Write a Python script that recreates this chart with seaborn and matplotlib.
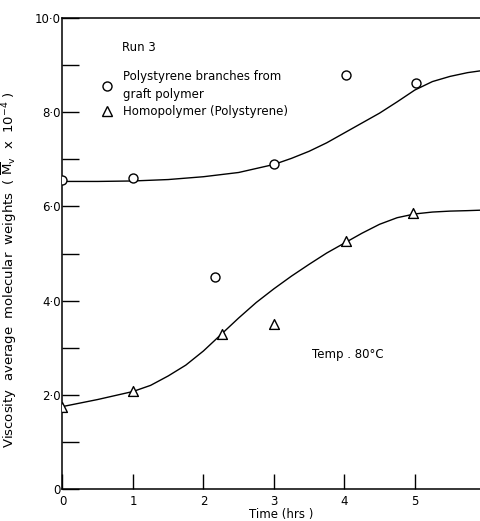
import matplotlib
matplotlib.use("Agg")
import matplotlib.pyplot as plt
from matplotlib.lines import Line2D
import seaborn as sns

# Measured points
branch_time = [0.0, 1.0, 2.17, 3.0, 4.02, 5.02]
branch_mv = [6.56, 6.61, 4.50, 6.90, 8.78, 8.61]
homo_time = [0.0, 1.0, 2.26, 3.0, 4.02, 4.98]
homo_mv = [1.75, 2.08, 3.29, 3.50, 5.27, 5.87]

# Hand-drawn trend curves
branch_curve_t = [0.0, 0.5, 1.0, 1.5, 2.0, 2.5, 3.0, 3.25, 3.5, 3.75, 4.0, 4.25, 4.5, 4.75, 5.0, 5.25, 5.5, 5.75, 5.94]
branch_curve_v = [6.53, 6.53, 6.54, 6.57, 6.63, 6.72, 6.89, 7.02, 7.17, 7.35, 7.56, 7.77, 7.98, 8.22, 8.47, 8.65, 8.76, 8.84, 8.88]
homo_curve_t = [0.0, 0.5, 1.0, 1.25, 1.5, 1.75, 2.0, 2.25, 2.5, 2.75, 3.0, 3.25, 3.5, 3.75, 4.0, 4.25, 4.5, 4.75, 5.0, 5.25, 5.5, 5.75, 5.94]
homo_curve_v = [1.75, 1.90, 2.07, 2.20, 2.40, 2.63, 2.93, 3.28, 3.63, 3.96, 4.25, 4.52, 4.77, 5.01, 5.22, 5.43, 5.62, 5.76, 5.84, 5.88, 5.90, 5.91, 5.92]

y_major = [0, 2, 4, 6, 8, 10]
y_major_labels = ["0", "2·0", "4·0", "6·0", "8·0", "10·0"]
y_minor = [1, 3, 5, 7, 9]
x_ticks = [0, 1, 2, 3, 4, 5]
x_tick_labels = ["0", "1", "2", "3", "4", "5"]

sns.set_style("ticks")
plt.rcParams["font.family"] = ["DejaVu Sans"]
plt.rcParams["mathtext.fontset"] = "dejavusans"
plt.rcParams["text.color"] = "black"
plt.rcParams["axes.labelcolor"] = "black"

fig = plt.figure(figsize=(4.81, 5.21), dpi=100)
ax = fig.add_axes([62.5 / 481, 32 / 521, 418.5 / 481, 471 / 521])

sns.lineplot(x=branch_curve_t, y=branch_curve_v, ax=ax, color="black", lw=1.0, sort=False)
sns.lineplot(x=homo_curve_t, y=homo_curve_v, ax=ax, color="black", lw=1.0, sort=False)
sns.scatterplot(x=branch_time, y=branch_mv, ax=ax, marker="o", s=42,
                facecolor="white", edgecolor="black", linewidth=1.0, zorder=3)
sns.scatterplot(x=homo_time, y=homo_mv, ax=ax, marker="^", s=50,
                facecolor="white", edgecolor="black", linewidth=1.0, zorder=3)

ax.set_xlim(0, 5.94)
ax.set_ylim(0, 10)
ax.set_yticks(y_major)
ax.set_yticklabels(y_major_labels)
ax.set_yticks(y_minor, minor=True)
ax.set_xticks(x_ticks)
ax.set_xticklabels(x_tick_labels)

ax.tick_params(axis="y", which="both", direction="in", length=12, width=1.0,
               pad=1, labelsize=8.5, colors="black")
ax.tick_params(axis="x", which="both", direction="in", length=11, width=1.0,
               pad=4, labelsize=8.5, colors="black")

for side in ["left", "bottom", "top"]:
    ax.spines[side].set_linewidth(1.1)
    ax.spines[side].set_color("black")
ax.spines["right"].set_visible(False)

ax.set_xlabel("Time (hrs )", fontsize=8.5)
ax.xaxis.set_label_coords(0.522, -0.041)
ax.set_ylabel(r"Viscosity  average  molecular  weights  ( $\overline{\mathrm{M}}_{\mathrm{v}}$  x  10$^{-4}$ )",
              fontsize=9.5)
ax.yaxis.set_label_coords(-0.103, 0.465)

ax.text(0.84, 9.38, "Run 3", fontsize=8.5, va="center", ha="left")
ax.text(3.54, 2.85, "Temp . 80°C", fontsize=8.5, va="center", ha="left")

handles = [
    Line2D([], [], ls="none", marker="o", ms=6.5, mfc="white", mec="black", mew=1.0),
    Line2D([], [], ls="none", marker="^", ms=7, mfc="white", mec="black", mew=1.0),
]
labels = ["Polystyrene branches from\ngraft polymer", "Homopolymer (Polystyrene)"]
leg = ax.legend(handles, labels, loc="upper left", bbox_to_anchor=(0.092, 0.89),
                frameon=False, fontsize=8.5, handlelength=1.0, handletextpad=0.85,
                labelspacing=0.3, borderpad=0, borderaxespad=0)
for t in leg.get_texts():
    t.set_linespacing(1.55)
    t.set_color("black")

fig.savefig("out.png", dpi=100)
